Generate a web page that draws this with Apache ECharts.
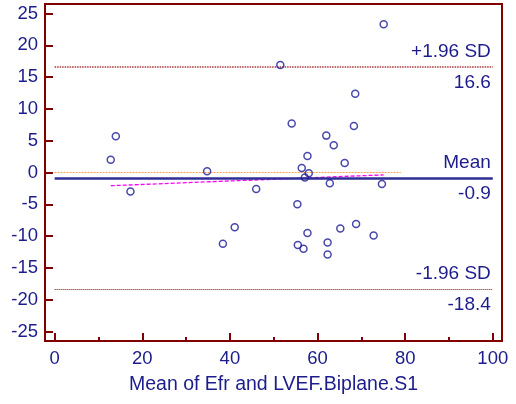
<!DOCTYPE html>
<html>
<head>
<meta charset="utf-8">
<script src="https://cdn.jsdelivr.net/npm/echarts@6/dist/echarts.min.js"></script>
<style>
  html, body { margin: 0; padding: 0; background: #ffffff; }
  #chart { width: 516px; height: 404px; }
</style>
</head>
<body>
<div id="chart"></div>
<script>
// Bland-Altman plot: mean of the two methods vs. their difference
const meanOfMethods = [13.96, 12.8, 17.3, 34.8, 41.1, 38.4, 46.0, 51.5, 75.1, 68.6,
  54.1, 68.3, 62.0, 63.7, 57.7, 66.2, 56.4, 58.0, 57.1, 62.8,
  74.7, 55.4, 68.8, 65.2, 57.7, 72.8, 62.3, 55.5, 56.8, 62.3];
const differences = [5.7, 2.0, -3.0, 0.2, -8.6, -11.2, -2.6, 16.9, 23.3, 12.4,
  7.7, 7.3, 5.8, 4.3, 2.6, 1.5, 0.7, -0.1, -0.8, -1.7,
  -1.8, -5.0, -8.1, -8.8, -9.5, -9.9, -11.0, -11.4, -12.0, -12.9];

const meanDiff = -0.9;
const upperLimit = 16.6;
const lowerLimit = -18.4;
const limitSpan = [0, 100];
const zeroLineSpan = [0, 79];

const xTicks = [0, 20, 40, 60, 80, 100];
const xMinorTicks = [10, 30, 50, 70, 90];
const yTicks = [-25, -20, -15, -10, -5, 0, 5, 10, 15, 20, 25];

const axisRed = '#800000';
const navy = '#1c1c8c';
const font = '"Liberation Sans", Arial, sans-serif';

// least-squares fit of difference on mean
function fitLine(xs, ys) {
  const n = xs.length;
  const mx = xs.reduce((a, b) => a + b, 0) / n;
  const my = ys.reduce((a, b) => a + b, 0) / n;
  let sxy = 0, sxx = 0;
  for (let i = 0; i < n; i++) {
    sxy += (xs[i] - mx) * (ys[i] - my);
    sxx += (xs[i] - mx) * (xs[i] - mx);
  }
  const b = sxy / sxx;
  const a = my - b * mx;
  const x0 = Math.min(...xs), x1 = Math.max(...xs);
  return [[x0, a + b * x0], [x1, a + b * x1]];
}

const points = meanOfMethods.map((x, i) => [x, differences[i]]);
const regression = fitLine(meanOfMethods, differences);

// a reference line with a caption above its right end and the value below
function refLine(value, top, bottom, style) {
  return [
    [
      { coord: [limitSpan[0], value], lineStyle: style,
        label: { show: true, position: 'insideEndTop', formatter: top, distance: [2, 6] } },
      { coord: [limitSpan[1], value] }
    ],
    [
      { coord: [limitSpan[0], value], lineStyle: { color: 'rgba(0,0,0,0)', width: 1 },
        label: { show: true, position: 'insideEndBottom', formatter: bottom, distance: [2, 6] } },
      { coord: [limitSpan[1], value] }
    ]
  ];
}

const chart = echarts.init(document.getElementById('chart'), null, { renderer: 'canvas' });

chart.setOption({
  animation: false,
  backgroundColor: '#ffffff',
  grid: {
    left: 45, right: 14, top: 4, bottom: 63,
    show: true, borderColor: axisRed, borderWidth: 2, backgroundColor: '#ffffff'
  },
  xAxis: [
    {
      type: 'value', min: -2.2, max: 102.1,
      name: 'Mean of Efr and LVEF.Biplane.S1',
      nameLocation: 'middle', nameGap: 34,
      nameTextStyle: { color: navy, fontSize: 19.5, fontFamily: font },
      axisLine: { show: true, onZero: false, lineStyle: { color: axisRed, width: 2 } },
      axisTick: { show: true, inside: true, length: 8, customValues: xTicks,
        lineStyle: { color: axisRed, width: 2 } },
      axisLabel: { customValues: xTicks, color: navy, fontSize: 18.5, fontFamily: font, margin: 8 },
      splitLine: { show: false }
    },
    {
      type: 'value', min: -2.2, max: 102.1, position: 'bottom',
      axisLine: { show: false, onZero: false },
      axisTick: { show: true, inside: true, length: 4, customValues: xMinorTicks,
        lineStyle: { color: axisRed, width: 2 } },
      axisLabel: { show: false },
      splitLine: { show: false }
    }
  ],
  yAxis: {
    type: 'value', min: -26.5, max: 26.5,
    axisLine: { show: true, onZero: false, lineStyle: { color: axisRed, width: 2 } },
    axisTick: { show: true, inside: true, length: 8, customValues: yTicks,
      lineStyle: { color: axisRed, width: 2 } },
    axisLabel: { customValues: yTicks, color: navy, fontSize: 18.5, fontFamily: font, margin: 7 },
    splitLine: { show: false }
  },
  series: [
    {
      type: 'line', name: 'zero',
      data: [[zeroLineSpan[0], 0], [zeroLineSpan[1], 0]],
      showSymbol: false, silent: true,
      lineStyle: { color: '#ffa050', width: 1, type: [2, 1] }
    },
    {
      type: 'line', name: 'regression',
      data: regression,
      showSymbol: false, silent: true,
      lineStyle: { color: '#ff00ff', width: 1.3, type: [4, 2] }
    },
    {
      type: 'line', name: 'limits',
      data: [],
      markLine: {
        silent: true, symbol: 'none', animation: false,
        label: { color: navy, fontSize: 19, fontFamily: font },
        data: [
          ...refLine(upperLimit, '+1.96 SD', String(upperLimit),
            { color: '#a83a3a', width: 1.5, type: [1.5, 1] }),
          ...refLine(meanDiff, 'Mean', String(meanDiff),
            { color: '#2e2e96', width: 2.5, type: 'solid' }),
          ...refLine(lowerLimit, '-1.96 SD', String(lowerLimit),
            { color: '#7a0a0a', width: 1, type: [1, 1] })
        ]
      }
    },
    {
      type: 'scatter', name: 'differences',
      data: points,
      symbol: 'circle', symbolSize: 7, z: 5,
      itemStyle: { color: 'rgba(255,255,255,0)', borderColor: '#1a1a96', borderWidth: 1.5 }
    }
  ]
});
</script>
</body>
</html>
